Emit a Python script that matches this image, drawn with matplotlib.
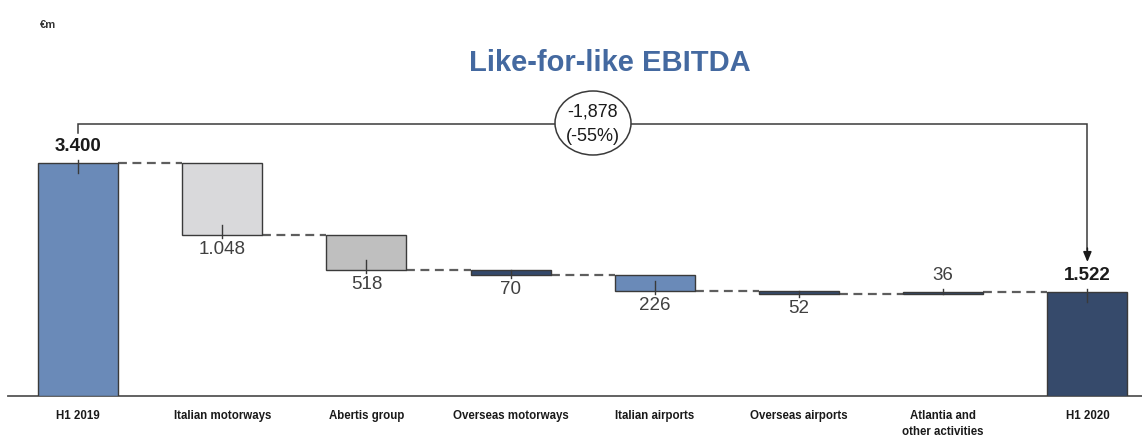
import matplotlib
matplotlib.use("Agg")
import matplotlib.pyplot as plt
from matplotlib.patches import Ellipse

# EBITDA bridge, € millions
categories = ["H1 2019", "Italian motorways", "Abertis group", "Overseas motorways",
              "Italian airports", "Overseas airports", "Atlantia and\nother activities", "H1 2020"]
changes = [3400, -1048, -518, -70, -226, -52, 36, 1522]
value_labels = ["3.400", "1.048", "518", "70", "226", "52", "36", "1.522"]
bar_colors = ["#6a8ab8", "#d9d9db", "#bfbfbf", "#34496b", "#6a8ab8", "#34496b", "#34496b", "#364a6b"]
total_change = "-1,878\n(-55%)"

W, H = 1142, 437
fig = plt.figure(figsize=(W / 100, H / 100), dpi=100)
ax = fig.add_axes([8 / W, (H - 396) / H, 1 - 8 / W, 396 / H])

px_per_unit = 0.0685
ax.set_ylim(0, 396 / px_per_unit)
spacing = 144.2
ax.set_xlim((8 - 78) / spacing, (W - 78) / spacing)
FONT = ["Liberation Sans", "DejaVu Sans"]

n = len(categories)
bottoms, tops = [], []
level = 0
for i, v in enumerate(changes):
    if i == 0 or i == n - 1:
        b, t = 0, v
        level = v
    else:
        new = level + v
        b, t = min(level, new), max(level, new)
        level = new
    bottoms.append(b)
    tops.append(t)

width = 0.555
ax.bar(range(n), [t - b for b, t in zip(bottoms, tops)], bottom=bottoms, width=width,
       color=bar_colors, edgecolor="#3a3a3a", linewidth=1.0, zorder=3)

# dashed connectors between consecutive bars
running = changes[0]
for i in range(n - 1):
    ax.plot([i + width / 2, i + 1 - width / 2], [running, running], ls=(0, (4, 2.5)),
            color="#5e5e5e", lw=1.6, zorder=2)
    if i + 1 < n - 1:
        running += changes[i + 1]

# value labels with small ticks at the labelled edge
for i, v in enumerate(changes):
    is_total = i == 0 or i == n - 1
    inside = min(10 / px_per_unit, tops[i] - bottoms[i])
    if is_total or v > 0:
        y_edge = tops[i]
        ax.plot([i, i], [y_edge - inside, y_edge + 3 / px_per_unit],
                color="#3a3a3a", lw=1.0, zorder=4)
        ax.annotate(value_labels[i], (i, y_edge), xytext=(0, 8), textcoords="offset pixels",
                    ha="center", va="bottom", fontsize=13.5,
                    fontweight="bold" if is_total else "normal",
                    color="#1a1a1a" if is_total else "#404040",
                    family=FONT, zorder=5)
    else:
        y_edge = bottoms[i]
        ax.plot([i, i], [y_edge + inside, y_edge - 3 / px_per_unit],
                color="#3a3a3a", lw=1.0, zorder=4)
        ax.annotate(value_labels[i], (i, y_edge), xytext=(0, -6), textcoords="offset pixels",
                    ha="center", va="top", fontsize=13.5, color="#404040",
                    family=FONT, zorder=5)

# bracket showing the overall change
y_br = (396 - 124) / px_per_unit
ax.plot([0, 0, n - 1, n - 1], [(396 - 133) / px_per_unit, y_br, y_br, (396 - 250) / px_per_unit],
        color="#3a3a3a", lw=1.1, zorder=2, solid_joinstyle="miter")
ax.annotate("", xy=(n - 1, (396 - 262) / px_per_unit), xytext=(n - 1, (396 - 248) / px_per_unit),
            arrowprops=dict(arrowstyle="-|>,head_width=0.25,head_length=0.6",
                            color="#1a1a1a", lw=1.1, shrinkA=0, shrinkB=0))
bx = (593 - 78) / spacing
by = (396 - 123) / px_per_unit
ax.add_patch(Ellipse((bx, by), 76 / spacing, 64 / px_per_unit, facecolor="white",
                     edgecolor="#3a3a3a", lw=1.1, zorder=4))
ax.text(bx, by - 1.5 / px_per_unit, total_change, ha="center", va="center", fontsize=13,
        color="#1a1a1a", linespacing=1.6, family=FONT, zorder=5)

ax.text((610 - 78) / spacing, (396 - 63) / px_per_unit, "Like-for-like EBITDA", ha="center",
        va="center", fontsize=21, fontweight="bold", color="#4469a0", family=FONT)

fig.text(40 / W, 1 - 25 / H, "€m", fontsize=8, fontweight="bold", color="#333333",
         ha="left", va="center", family=FONT)

ax.set_xticks(range(n))
ax.set_xticklabels(categories, fontsize=8.3, fontweight="bold", color="#1a1a1a",
                   family=["Liberation Sans Narrow", "Liberation Sans", "DejaVu Sans"],
                   linespacing=1.45)
ax.tick_params(axis="x", length=0, pad=10)
ax.set_yticks([])
for s in ["top", "right", "left"]:
    ax.spines[s].set_visible(False)
ax.spines["bottom"].set_color("#555555")
ax.spines["bottom"].set_linewidth(1.3)
ax.patch.set_alpha(0)

fig.savefig("out.png", dpi=100)
